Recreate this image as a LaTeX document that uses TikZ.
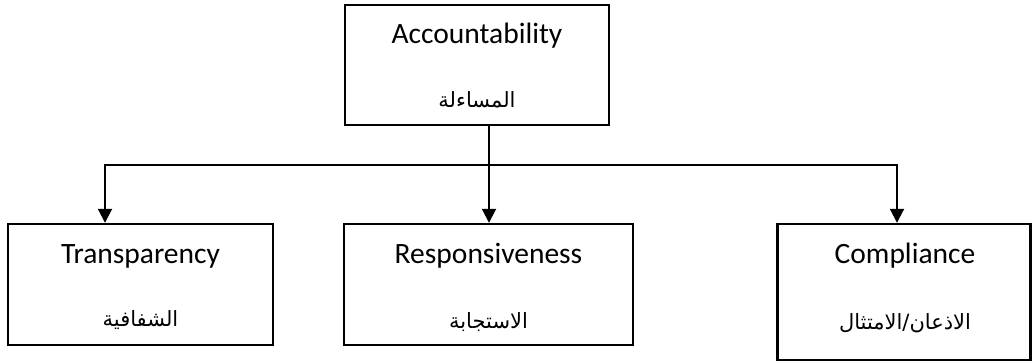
\documentclass[tikz,border=0pt]{standalone}
\usepackage{fontspec}
\setmainfont{Carlito}
\newfontfamily\arabicfont[Script=Arabic]{DejaVu Sans}
\TeXXeTstate=1
\usetikzlibrary{arrows.meta}
\begin{document}
\begin{tikzpicture}[x=1pt,y=-1pt,
  box/.style={draw,line width=2.4pt,minimum width=#1,inner sep=0pt},
  en/.style={font=\fontsize{29.5}{33}\selectfont,inner sep=0pt,anchor=center},
  ar/.style={font=\arabicfont\fontsize{21}{25}\selectfont,inner sep=0pt,anchor=center},
  conn/.style={line width=1.9pt},
  arr/.style={conn,-{Triangle[length=14pt,width=14pt]}}]
\useasboundingbox (0,0) rectangle (1034,363);
\node[box=264pt,minimum height=120pt] (top) at (477,65) {};
\node[box=265pt,minimum height=121pt] (trans) at (140.5,284.5) {};
\node[box=289pt,minimum height=121pt] (resp) at (488.5,284.5) {};
\node[box=253pt,minimum height=136pt] (comp) at (904,292) {};
\node[en] (t1) at (477,36) {Accountability};
\node[ar] (t2) at (477,100) {\beginR المساءلة\endR};
\node[en] (t3) at (140.5,256) {Transparency};
\node[ar] (t4) at (140.5,320) {\beginR الشفافية\endR};
\node[en] (t5) at (488.5,256) {Responsiveness};
\node[ar] (t6) at (488.5,322) {\beginR الاستجابة\endR};
\node[en] (t7) at (905,256) {Compliance};
\node[ar] (t8) at (905,323) {\beginR الاذعان/الامتثال\endR};
\coordinate (j) at (489,165);
\coordinate (jl) at (105,165);
\coordinate (jr) at (897,165);
\draw[conn] (j |- top.south) -- (j);
\draw[arr] (j) -- (j |- resp.north);
\draw[arr] (j) -- (jl) -- (jl |- trans.north);
\draw[arr] (j) -- (jr) -- (jr |- comp.north);
\end{tikzpicture}
\end{document}
